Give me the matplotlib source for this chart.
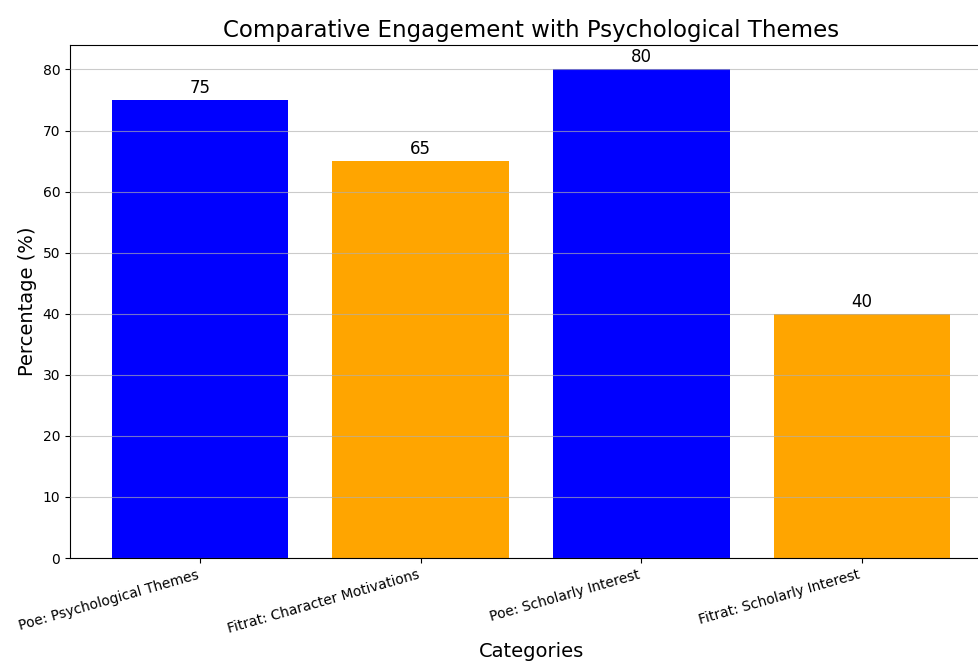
import matplotlib
matplotlib.use("Agg")
import matplotlib.pyplot as plt

categories = ["Poe: Psychological Themes", "Fitrat: Character Motivations",
              "Poe: Scholarly Interest", "Fitrat: Scholarly Interest"]
values = [75, 65, 80, 40]
colors = ["blue", "orange", "blue", "orange"]

fig = plt.figure(figsize=(9.79, 6.71), dpi=100)
ax = fig.add_axes([70/979, (671-558)/671, (992-70)/979, (558-45)/671])

bars = ax.bar(categories, values, color=colors)
for b, v in zip(bars, values):
    ax.text(b.get_x() + b.get_width()/2, v + 0.5, str(v), ha="center", va="bottom", fontsize=12)

ax.set_title("Comparative Engagement with Psychological Themes", fontsize=16.5)
ax.set_ylabel("Percentage (%)", fontsize=14)
ax.set_xlabel("Categories", fontsize=14)
ax.grid(axis="y", alpha=0.65)
ax.set_axisbelow(False)
plt.setp(ax.get_xticklabels(), rotation=16, ha="right")

fig.savefig("out.png", dpi=100)
